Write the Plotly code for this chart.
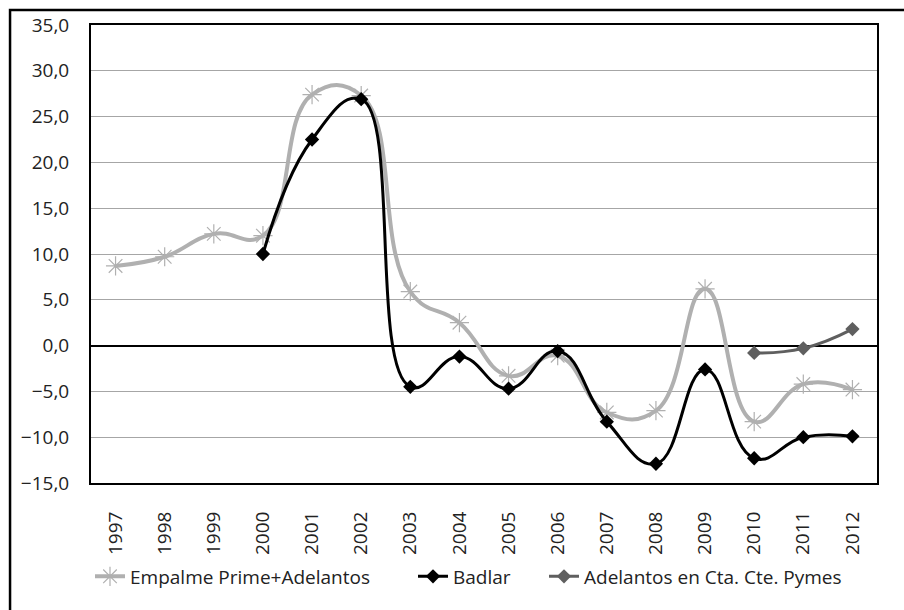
import plotly.graph_objects as go

years = [str(y) for y in range(1997, 2013)]
empalme = [8.7, 9.7, 12.2, 12.0, 27.4, 27.3, 5.9, 2.5, -3.3, -1.1, -7.3, -7.1, 6.2, -8.3, -4.2, -4.8]
badlar = [None, None, None, 10.0, 22.5, 26.9, -4.5, -1.2, -4.7, -0.6, -8.3, -12.9, -2.6, -12.3, -10.0, -9.9]
adelantos = [None] * 13 + [-0.8, -0.3, 1.8]
y_ticks = [-15, -10, -5, 0, 5, 10, 15, 20, 25, 30, 35]

FONT = "Open Sans, sans-serif"
TXT = "#222222"
FS = 19
SMOOTH = 1.3

fig = go.Figure()
fig.add_trace(go.Scatter(
    x=years, y=empalme, name="Empalme Prime+Adelantos", mode="lines+markers", legend="legend",
    line=dict(color="#b0b0b0", width=4, shape="spline", smoothing=SMOOTH),
    marker=dict(symbol="asterisk-open", size=16, color="#b0b0b0", line=dict(color="#b0b0b0", width=1.2)),
))
fig.add_trace(go.Scatter(
    x=years, y=badlar, name="Badlar", mode="lines+markers", legend="legend2",
    line=dict(color="#000000", width=3, shape="spline", smoothing=SMOOTH),
    marker=dict(symbol="diamond", size=11, color="#000000"),
))
fig.add_trace(go.Scatter(
    x=years, y=adelantos, name="Adelantos en Cta. Cte. Pymes", mode="lines+markers", legend="legend3",
    line=dict(color="#5f5f5f", width=3, shape="spline", smoothing=SMOOTH),
    marker=dict(symbol="diamond", size=11, color="#5f5f5f"),
))

def leg(px):
    return dict(orientation="h", x=(px - 91) / 786, xanchor="left", y=-0.204, yanchor="middle",
                font=dict(family=FONT, size=FS, color=TXT), bgcolor="rgba(0,0,0,0)",
                borderwidth=0)

fig.update_layout(
    width=904, height=610,
    margin=dict(l=91, r=27, t=22, b=127),
    paper_bgcolor="white", plot_bgcolor="white",
    separators=",.",
    font=dict(family=FONT, size=FS, color=TXT),
    showlegend=True,
    legend=leg(90), legend2=leg(413), legend3=leg(544),
    shapes=[dict(type="rect", xref="paper", yref="paper", x0=-0.103, x1=1.2, y0=-0.6, y1=1.0325,
                 line=dict(color="black", width=2.5), layer="below")],
)
fig.update_xaxes(
    type="category", range=[-0.5, 15.5], tickangle=-90, showgrid=False,
    showline=True, linecolor="black", linewidth=2, mirror=True, ticks="",
    ticklabelstandoff=19,
    tickfont=dict(family=FONT, size=FS, color=TXT),
)
fig.update_yaxes(
    range=[-15, 35], tickvals=y_ticks, tickformat=".1f", showgrid=True,
    gridcolor="#a6a6a6", gridwidth=1, zeroline=True, zerolinecolor="black", zerolinewidth=2,
    showline=True, linecolor="black", linewidth=2, mirror=True, ticks="",
    ticklabelstandoff=16,
    tickfont=dict(family=FONT, size=FS, color=TXT),
)

fig.write_html("out.html", config={"displayModeBar": False},
               post_script="document.body.style.margin='0';document.body.style.overflow='hidden';")
